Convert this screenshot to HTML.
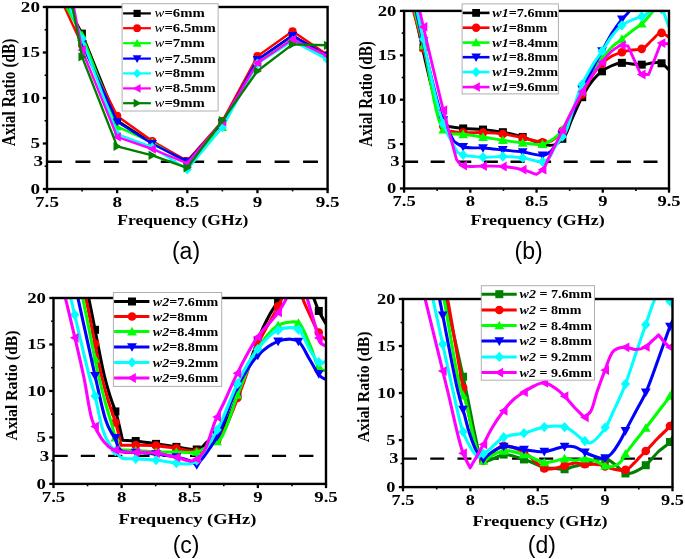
<!DOCTYPE html>
<html><head><meta charset="utf-8"><style>
html,body{margin:0;padding:0;background:#fff;width:685px;height:559px;overflow:hidden;font-family:"Liberation Sans",sans-serif}
svg{display:block;filter:blur(0.35px)}
</style></head><body>
<svg width="685" height="559" viewBox="0 0 685 559">
<line x1="47" y1="161.7" x2="318" y2="161.7" stroke="#000" stroke-width="2.4" stroke-dasharray="14.9 13.549999999999999"/>
<clipPath id="ca"><rect x="47" y="7" width="280.6" height="182"/></clipPath>
<g clip-path="url(#ca)">
<polyline points="47.00,-32.60 82.08,33.40 117.15,120.50 152.23,143.00 187.30,161.00 222.38,122.00 257.45,60.00 292.53,35.60 327.60,56.00" fill="none" stroke="#000000" stroke-width="2.4" stroke-linejoin="round"/>
<rect x="78.28" y="29.60" width="7.60" height="7.60" fill="#000000"/>
<rect x="113.35" y="116.70" width="7.60" height="7.60" fill="#000000"/>
<rect x="148.43" y="139.20" width="7.60" height="7.60" fill="#000000"/>
<rect x="183.50" y="157.20" width="7.60" height="7.60" fill="#000000"/>
<rect x="218.57" y="118.20" width="7.60" height="7.60" fill="#000000"/>
<rect x="253.65" y="56.20" width="7.60" height="7.60" fill="#000000"/>
<rect x="288.73" y="31.80" width="7.60" height="7.60" fill="#000000"/>
<rect x="323.80" y="52.20" width="7.60" height="7.60" fill="#000000"/>
<polyline points="47.00,-30.60 82.08,45.00 117.15,115.90 152.23,141.00 187.30,161.00 222.38,121.00 257.45,56.20 292.53,31.30 327.60,54.90" fill="none" stroke="#ff0000" stroke-width="2.4" stroke-linejoin="round"/>
<circle cx="82.08" cy="45.00" r="4.10" fill="#ff0000"/>
<circle cx="117.15" cy="115.90" r="4.10" fill="#ff0000"/>
<circle cx="152.23" cy="141.00" r="4.10" fill="#ff0000"/>
<circle cx="187.30" cy="161.00" r="4.10" fill="#ff0000"/>
<circle cx="222.38" cy="121.00" r="4.10" fill="#ff0000"/>
<circle cx="257.45" cy="56.20" r="4.10" fill="#ff0000"/>
<circle cx="292.53" cy="31.30" r="4.10" fill="#ff0000"/>
<circle cx="327.60" cy="54.90" r="4.10" fill="#ff0000"/>
<polyline points="47.00,-27.20 82.08,35.00 117.15,126.70 152.23,142.50 187.30,163.00 222.38,127.30 257.45,62.00 292.53,39.00 327.60,57.00" fill="none" stroke="#00ff00" stroke-width="2.4" stroke-linejoin="round"/>
<path d="M82.08,30.44L86.73,38.65L77.42,38.65Z" fill="#00ff00"/>
<path d="M117.15,122.14L121.80,130.35L112.50,130.35Z" fill="#00ff00"/>
<path d="M152.23,137.94L156.88,146.15L147.57,146.15Z" fill="#00ff00"/>
<path d="M187.30,158.44L191.95,166.65L182.65,166.65Z" fill="#00ff00"/>
<path d="M222.38,122.74L227.03,130.95L217.72,130.95Z" fill="#00ff00"/>
<path d="M257.45,57.44L262.10,65.65L252.80,65.65Z" fill="#00ff00"/>
<path d="M292.53,34.44L297.18,42.65L287.87,42.65Z" fill="#00ff00"/>
<path d="M327.60,52.44L332.25,60.65L322.95,60.65Z" fill="#00ff00"/>
<polyline points="47.00,-73.20 82.08,43.75 117.15,121.80 152.23,143.70 187.30,161.60 222.38,123.00 257.45,59.70 292.53,35.60 327.60,56.00" fill="none" stroke="#0000ff" stroke-width="2.4" stroke-linejoin="round"/>
<path d="M82.08,48.31L86.73,40.10L77.42,40.10Z" fill="#0000ff"/>
<path d="M117.15,126.36L121.80,118.15L112.50,118.15Z" fill="#0000ff"/>
<path d="M152.23,148.26L156.88,140.05L147.57,140.05Z" fill="#0000ff"/>
<path d="M187.30,166.16L191.95,157.95L182.65,157.95Z" fill="#0000ff"/>
<path d="M222.38,127.56L227.03,119.35L217.72,119.35Z" fill="#0000ff"/>
<path d="M257.45,64.26L262.10,56.05L252.80,56.05Z" fill="#0000ff"/>
<path d="M292.53,40.16L297.18,31.95L287.87,31.95Z" fill="#0000ff"/>
<path d="M327.60,60.56L332.25,52.35L322.95,52.35Z" fill="#0000ff"/>
<polyline points="47.00,-49.40 82.08,38.75 117.15,134.00 152.23,147.20 187.30,169.60 222.38,127.30 257.45,63.50 292.53,41.00 327.60,59.70" fill="none" stroke="#00ffff" stroke-width="2.4" stroke-linejoin="round"/>
<path d="M82.08,33.81L86.52,38.75L82.08,43.69L77.63,38.75Z" fill="#00ffff"/>
<path d="M117.15,129.06L121.60,134.00L117.15,138.94L112.70,134.00Z" fill="#00ffff"/>
<path d="M152.23,142.26L156.67,147.20L152.23,152.14L147.78,147.20Z" fill="#00ffff"/>
<path d="M187.30,164.66L191.75,169.60L187.30,174.54L182.85,169.60Z" fill="#00ffff"/>
<path d="M222.38,122.36L226.82,127.30L222.38,132.24L217.93,127.30Z" fill="#00ffff"/>
<path d="M257.45,58.56L261.90,63.50L257.45,68.44L253.00,63.50Z" fill="#00ffff"/>
<path d="M292.53,36.06L296.97,41.00L292.53,45.94L288.08,41.00Z" fill="#00ffff"/>
<path d="M327.60,54.76L332.05,59.70L327.60,64.64L323.15,59.70Z" fill="#00ffff"/>
<polyline points="47.00,-132.00 82.08,50.00 117.15,136.90 152.23,149.00 187.30,163.30 222.38,121.50 257.45,62.90 292.53,39.30 327.60,56.00" fill="none" stroke="#ff00ff" stroke-width="2.4" stroke-linejoin="round"/>
<path d="M77.52,50.00L85.72,45.35L85.72,54.65Z" fill="#ff00ff"/>
<path d="M112.59,136.90L120.80,132.25L120.80,141.55Z" fill="#ff00ff"/>
<path d="M147.67,149.00L155.87,144.35L155.87,153.65Z" fill="#ff00ff"/>
<path d="M182.74,163.30L190.95,158.65L190.95,167.95Z" fill="#ff00ff"/>
<path d="M217.81,121.50L226.02,116.85L226.02,126.15Z" fill="#ff00ff"/>
<path d="M252.89,62.90L261.10,58.25L261.10,67.55Z" fill="#ff00ff"/>
<path d="M287.97,39.30L296.17,34.65L296.17,43.95Z" fill="#ff00ff"/>
<path d="M323.04,56.00L331.25,51.35L331.25,60.65Z" fill="#ff00ff"/>
<polyline points="47.00,-127.00 82.08,56.90 117.15,146.40 152.23,155.30 187.30,167.80 222.38,120.60 257.45,71.00 292.53,44.40 327.60,45.30" fill="none" stroke="#008000" stroke-width="2.4" stroke-linejoin="round"/>
<path d="M86.64,56.90L78.43,52.25L78.43,61.55Z" fill="#008000"/>
<path d="M121.71,146.40L113.50,141.75L113.50,151.05Z" fill="#008000"/>
<path d="M156.79,155.30L148.58,150.65L148.58,159.95Z" fill="#008000"/>
<path d="M191.86,167.80L183.65,163.15L183.65,172.45Z" fill="#008000"/>
<path d="M226.94,120.60L218.73,115.95L218.73,125.25Z" fill="#008000"/>
<path d="M262.01,71.00L253.80,66.35L253.80,75.65Z" fill="#008000"/>
<path d="M297.09,44.40L288.88,39.75L288.88,49.05Z" fill="#008000"/>
<path d="M332.16,45.30L323.95,40.65L323.95,49.95Z" fill="#008000"/>
</g>
<rect x="47" y="7" width="280.6" height="182" fill="none" stroke="#000" stroke-width="2.4"/>
<line x1="47.00" y1="189" x2="47.00" y2="193.2" stroke="#000" stroke-width="2.3"/>
<line x1="117.15" y1="189" x2="117.15" y2="193.2" stroke="#000" stroke-width="2.3"/>
<line x1="187.30" y1="189" x2="187.30" y2="193.2" stroke="#000" stroke-width="2.3"/>
<line x1="257.45" y1="189" x2="257.45" y2="193.2" stroke="#000" stroke-width="2.3"/>
<line x1="327.60" y1="189" x2="327.60" y2="193.2" stroke="#000" stroke-width="2.3"/>
<line x1="82.08" y1="189" x2="82.08" y2="191.4" stroke="#000" stroke-width="1.6"/>
<line x1="152.23" y1="189" x2="152.23" y2="191.4" stroke="#000" stroke-width="1.6"/>
<line x1="222.38" y1="189" x2="222.38" y2="191.4" stroke="#000" stroke-width="1.6"/>
<line x1="292.53" y1="189" x2="292.53" y2="191.4" stroke="#000" stroke-width="1.6"/>
<line x1="47" y1="189.00" x2="42.8" y2="189.00" stroke="#000" stroke-width="2.3"/>
<line x1="47" y1="143.50" x2="42.8" y2="143.50" stroke="#000" stroke-width="2.3"/>
<line x1="47" y1="98.00" x2="42.8" y2="98.00" stroke="#000" stroke-width="2.3"/>
<line x1="47" y1="52.50" x2="42.8" y2="52.50" stroke="#000" stroke-width="2.3"/>
<line x1="47" y1="7.00" x2="42.8" y2="7.00" stroke="#000" stroke-width="2.3"/>
<line x1="47" y1="166.25" x2="44.6" y2="166.25" stroke="#000" stroke-width="1.6"/>
<line x1="47" y1="120.75" x2="44.6" y2="120.75" stroke="#000" stroke-width="1.6"/>
<line x1="47" y1="75.25" x2="44.6" y2="75.25" stroke="#000" stroke-width="1.6"/>
<line x1="47" y1="29.75" x2="44.6" y2="29.75" stroke="#000" stroke-width="1.6"/>
<g font-family="Liberation Serif" font-weight="bold" fill="#000">
<text transform="translate(40.00,193.60) scale(1.32,1)" text-anchor="end" font-size="14.5">0</text>
<text transform="translate(40.00,148.10) scale(1.32,1)" text-anchor="end" font-size="14.5">5</text>
<text transform="translate(40.00,102.60) scale(1.32,1)" text-anchor="end" font-size="14.5">10</text>
<text transform="translate(40.00,57.10) scale(1.32,1)" text-anchor="end" font-size="14.5">15</text>
<text transform="translate(40.00,11.60) scale(1.32,1)" text-anchor="end" font-size="14.5">20</text>
<text transform="translate(43.10,166.30) scale(1.32,1)" text-anchor="end" font-size="14.5">3</text>
<text transform="translate(47.00,207.00) scale(1.32,1)" text-anchor="middle" font-size="14.5">7.5</text>
<text transform="translate(117.15,207.00) scale(1.32,1)" text-anchor="middle" font-size="14.5">8</text>
<text transform="translate(187.30,207.00) scale(1.32,1)" text-anchor="middle" font-size="14.5">8.5</text>
<text transform="translate(257.45,207.00) scale(1.32,1)" text-anchor="middle" font-size="14.5">9</text>
<text transform="translate(327.60,207.00) scale(1.32,1)" text-anchor="middle" font-size="14.5">9.5</text>
<text transform="translate(182.80,224.90) scale(1.213,1)" text-anchor="middle" font-size="14.5">Frequency (GHz)</text>
<text transform="translate(14.6,92.4) rotate(-90) scale(1,1.213)" text-anchor="middle" font-size="15.4">Axial Ratio (dB)</text>
</g>
<text x="186" y="259.0" text-anchor="middle" font-family="Liberation Sans" font-size="23" fill="#000">(a)</text>
<rect x="122.1" y="3.7" width="96.0" height="107.3" fill="#fff" stroke="#b0b0b0" stroke-width="1"/>
<line x1="123.1" y1="13.4" x2="150.9" y2="13.4" stroke="#000" stroke-width="2.2"/>
<rect x="133.50" y="9.80" width="7.20" height="7.20" fill="#000"/>
<text transform="translate(154.6,17.47) scale(1.25,1)" font-family="Liberation Serif" font-weight="bold" font-size="11.8"><tspan font-style="italic" font-weight="normal">w</tspan>=6mm</text>
<line x1="123.1" y1="28.2" x2="150.9" y2="28.2" stroke="#f00" stroke-width="2.2"/>
<circle cx="137.10" cy="28.20" r="3.89" fill="#f00"/>
<text transform="translate(154.6,32.27) scale(1.25,1)" font-family="Liberation Serif" font-weight="bold" font-size="11.8"><tspan font-style="italic" font-weight="normal">w</tspan>=6.5mm</text>
<line x1="123.1" y1="43.2" x2="150.9" y2="43.2" stroke="#0f0" stroke-width="2.2"/>
<path d="M137.10,38.88L141.51,46.66L132.69,46.66Z" fill="#0f0"/>
<text transform="translate(154.6,47.27) scale(1.25,1)" font-family="Liberation Serif" font-weight="bold" font-size="11.8"><tspan font-style="italic" font-weight="normal">w</tspan>=7mm</text>
<line x1="123.1" y1="58.6" x2="150.9" y2="58.6" stroke="#00f" stroke-width="2.2"/>
<path d="M137.10,62.92L141.51,55.14L132.69,55.14Z" fill="#00f"/>
<text transform="translate(154.6,62.67) scale(1.25,1)" font-family="Liberation Serif" font-weight="bold" font-size="11.8"><tspan font-style="italic" font-weight="normal">w</tspan>=7.5mm</text>
<line x1="123.1" y1="73.4" x2="150.9" y2="73.4" stroke="#0ff" stroke-width="2.2"/>
<path d="M137.10,68.72L141.31,73.40L137.10,78.08L132.89,73.40Z" fill="#0ff"/>
<text transform="translate(154.6,77.47) scale(1.25,1)" font-family="Liberation Serif" font-weight="bold" font-size="11.8"><tspan font-style="italic" font-weight="normal">w</tspan>=8mm</text>
<line x1="123.1" y1="88.4" x2="150.9" y2="88.4" stroke="#f0f" stroke-width="2.2"/>
<path d="M132.78,88.40L140.56,83.99L140.56,92.81Z" fill="#f0f"/>
<text transform="translate(154.6,92.47) scale(1.25,1)" font-family="Liberation Serif" font-weight="bold" font-size="11.8"><tspan font-style="italic" font-weight="normal">w</tspan>=8.5mm</text>
<line x1="123.1" y1="103.2" x2="150.9" y2="103.2" stroke="#008000" stroke-width="2.2"/>
<path d="M141.42,103.20L133.64,98.79L133.64,107.61Z" fill="#008000"/>
<text transform="translate(154.6,107.27) scale(1.25,1)" font-family="Liberation Serif" font-weight="bold" font-size="11.8"><tspan font-style="italic" font-weight="normal">w</tspan>=9mm</text>
<line x1="404.1" y1="161.7" x2="659" y2="161.7" stroke="#000" stroke-width="2.4" stroke-dasharray="14.0 12.600000000000001"/>
<clipPath id="cb"><rect x="404.1" y="10.9" width="264.9" height="177.6"/></clipPath>
<g clip-path="url(#cb)">
<path d="M409.50,-10.00 C411.07,-3.00 411.87,1.28 414.20,11.00 C419.55,33.32 434.21,107.86 442.30,121.00 C444.49,124.57 446.50,124.67 448.60,126.50 C453.60,127.17 458.22,128.00 463.60,128.50 C469.80,129.08 477.03,128.97 483.70,129.60 C490.36,130.23 497.05,131.06 503.60,132.30 C510.12,133.53 517.26,135.27 522.90,137.00 C527.45,138.39 531.35,140.37 535.00,141.50 C537.91,142.40 540.50,142.83 543.00,143.50 C545.23,144.10 547.17,145.17 549.30,145.30 C551.44,145.43 553.76,145.22 555.80,144.30 C558.09,143.27 560.43,140.85 562.20,139.00 C563.74,137.39 564.74,136.22 566.00,134.00 C568.02,130.43 569.57,124.60 572.00,119.00 C575.17,111.69 579.76,101.01 583.70,94.00 C586.78,88.53 589.74,83.93 593.00,80.00 C595.75,76.67 598.52,73.97 601.60,71.60 C604.54,69.34 607.69,67.47 611.00,66.00 C614.30,64.54 617.88,63.13 621.40,62.80 C624.88,62.48 628.49,63.68 632.00,64.00 C635.45,64.31 638.93,64.88 642.30,64.70 C645.59,64.53 648.82,63.31 652.00,63.00 C655.04,62.70 658.26,61.81 661.00,62.80 C663.98,63.88 666.33,67.47 669.00,69.80" fill="none" stroke="#000000" stroke-width="2.9" stroke-linejoin="round"/>
<rect x="419.50" y="43.41" width="8.00" height="8.00" fill="#000000"/>
<rect x="439.34" y="117.91" width="8.00" height="8.00" fill="#000000"/>
<rect x="459.17" y="124.44" width="8.00" height="8.00" fill="#000000"/>
<rect x="479.01" y="125.56" width="8.00" height="8.00" fill="#000000"/>
<rect x="498.85" y="128.20" width="8.00" height="8.00" fill="#000000"/>
<rect x="518.68" y="132.95" width="8.00" height="8.00" fill="#000000"/>
<rect x="538.52" y="139.38" width="8.00" height="8.00" fill="#000000"/>
<rect x="558.36" y="134.79" width="8.00" height="8.00" fill="#000000"/>
<rect x="578.20" y="93.21" width="8.00" height="8.00" fill="#000000"/>
<rect x="598.03" y="67.34" width="8.00" height="8.00" fill="#000000"/>
<rect x="617.87" y="58.85" width="8.00" height="8.00" fill="#000000"/>
<rect x="637.71" y="60.66" width="8.00" height="8.00" fill="#000000"/>
<rect x="657.54" y="59.28" width="8.00" height="8.00" fill="#000000"/>
<path d="M408.00,-10.00 C409.80,-3.00 411.29,3.00 413.40,11.00 C416.22,21.71 419.66,33.74 423.50,48.50 C429.00,69.64 436.48,115.45 442.90,125.80 C444.94,129.08 446.97,129.27 449.00,131.00 C453.87,131.53 458.34,132.31 463.60,132.60 C469.76,132.94 477.02,132.37 483.70,132.60 C490.35,132.83 497.05,133.11 503.60,134.00 C510.11,134.88 516.42,136.53 522.90,137.90 C529.51,139.30 537.91,142.04 542.90,142.30 C545.85,142.45 547.82,142.30 550.00,141.50 C552.19,140.70 554.07,139.08 556.00,137.50 C558.09,135.79 559.95,134.24 562.00,131.50 C565.22,127.18 568.66,119.12 572.00,113.00 C575.30,106.95 578.61,101.09 581.90,95.00 C585.27,88.76 588.28,81.60 592.00,76.00 C595.32,71.02 599.12,66.30 602.80,62.80 C605.81,59.93 608.80,57.77 612.00,56.00 C615.01,54.33 618.13,53.29 621.40,52.30 C624.79,51.27 628.48,50.59 632.00,50.00 C635.44,49.43 639.13,50.24 642.30,48.80 C645.86,47.18 648.79,42.77 652.00,40.00 C655.02,37.39 658.00,32.85 661.00,32.60 C663.67,32.38 666.33,35.67 669.00,37.20" fill="none" stroke="#ff0000" stroke-width="2.9" stroke-linejoin="round"/>
<circle cx="423.50" cy="48.50" r="4.32" fill="#ff0000"/>
<circle cx="443.34" cy="126.17" r="4.32" fill="#ff0000"/>
<circle cx="463.17" cy="132.55" r="4.32" fill="#ff0000"/>
<circle cx="483.01" cy="132.60" r="4.32" fill="#ff0000"/>
<circle cx="502.85" cy="133.95" r="4.32" fill="#ff0000"/>
<circle cx="522.68" cy="137.86" r="4.32" fill="#ff0000"/>
<circle cx="542.52" cy="142.22" r="4.32" fill="#ff0000"/>
<circle cx="562.36" cy="130.84" r="4.32" fill="#ff0000"/>
<circle cx="582.20" cy="94.44" r="4.32" fill="#ff0000"/>
<circle cx="602.03" cy="63.74" r="4.32" fill="#ff0000"/>
<circle cx="621.87" cy="52.20" r="4.32" fill="#ff0000"/>
<circle cx="641.71" cy="48.87" r="4.32" fill="#ff0000"/>
<circle cx="661.54" cy="32.91" r="4.32" fill="#ff0000"/>
<path d="M409.00,-10.00 C410.83,-3.00 412.44,3.14 414.50,11.00 C417.13,21.08 420.04,31.46 423.50,45.50 C428.87,67.31 435.14,118.80 442.90,129.30 C445.46,132.76 448.30,132.43 451.00,134.00 C455.20,134.10 458.92,133.91 463.60,134.30 C469.53,134.80 477.02,136.20 483.70,137.20 C490.35,138.20 497.01,139.34 503.60,140.30 C510.08,141.24 516.40,142.24 522.90,142.90 C529.50,143.57 538.01,145.20 542.90,144.30 C545.96,143.74 547.70,142.34 550.00,141.00 C552.41,139.60 554.94,137.90 557.00,136.00 C558.99,134.15 560.36,132.56 562.20,129.80 C565.18,125.34 568.73,117.28 572.00,111.00 C575.29,104.68 578.53,98.22 581.90,92.00 C585.20,85.89 588.45,79.75 592.00,74.00 C595.43,68.44 599.22,62.75 602.80,58.00 C605.88,53.90 608.75,50.18 612.00,47.00 C614.98,44.09 618.17,42.08 621.40,39.50 C624.83,36.76 628.47,33.73 632.00,31.00 C635.44,28.34 639.23,26.06 642.30,23.30 C645.18,20.71 647.78,17.72 650.00,15.00 C651.93,12.63 653.49,10.81 655.00,8.00 C656.92,4.43 658.33,-0.67 660.00,-5.00" fill="none" stroke="#00ff00" stroke-width="2.9" stroke-linejoin="round"/>
<path d="M423.50,40.70L428.40,49.34L418.60,49.34Z" fill="#00ff00"/>
<path d="M443.34,124.75L448.23,133.39L438.44,133.39Z" fill="#00ff00"/>
<path d="M463.17,129.49L468.07,138.13L458.28,138.13Z" fill="#00ff00"/>
<path d="M483.01,132.30L487.91,140.94L478.11,140.94Z" fill="#00ff00"/>
<path d="M502.85,135.38L507.74,144.02L497.95,144.02Z" fill="#00ff00"/>
<path d="M522.68,138.07L527.58,146.71L517.79,146.71Z" fill="#00ff00"/>
<path d="M542.52,139.47L547.42,148.11L537.63,148.11Z" fill="#00ff00"/>
<path d="M562.36,124.69L567.25,133.33L557.46,133.33Z" fill="#00ff00"/>
<path d="M582.20,86.67L587.09,95.31L577.30,95.31Z" fill="#00ff00"/>
<path d="M602.03,54.34L606.93,62.98L597.14,62.98Z" fill="#00ff00"/>
<path d="M621.87,34.32L626.77,42.96L616.97,42.96Z" fill="#00ff00"/>
<path d="M641.71,18.94L646.60,27.58L636.81,27.58Z" fill="#00ff00"/>
<path d="M411.00,-10.00 C412.67,-3.00 413.64,1.29 416.00,11.00 C421.37,33.08 434.70,97.07 442.90,119.30 C446.77,129.78 450.30,134.10 454.00,141.50 C457.20,143.33 459.65,145.84 463.60,147.00 C468.93,148.56 477.02,147.50 483.70,148.00 C490.36,148.50 497.02,149.33 503.60,150.00 C510.08,150.66 516.42,151.13 522.90,152.00 C529.52,152.89 538.00,155.97 542.90,155.30 C545.95,154.88 547.83,153.73 550.00,152.00 C552.62,149.91 554.65,146.26 557.00,143.00 C559.64,139.33 562.59,135.40 565.00,131.00 C567.65,126.15 569.52,120.95 572.00,115.00 C575.08,107.62 578.40,97.79 581.90,90.00 C585.10,82.88 588.64,76.47 592.00,70.00 C595.21,63.82 598.32,58.07 601.60,52.00 C604.98,45.74 608.45,38.67 612.00,33.00 C615.07,28.10 618.26,23.67 621.40,19.80 C624.10,16.48 627.40,14.31 629.50,11.00 C631.59,7.70 632.50,3.67 634.00,0.00" fill="none" stroke="#0000ff" stroke-width="2.9" stroke-linejoin="round"/>
<path d="M423.50,46.00L428.40,37.36L418.60,37.36Z" fill="#0000ff"/>
<path d="M443.34,124.97L448.23,116.33L438.44,116.33Z" fill="#0000ff"/>
<path d="M463.17,151.56L468.07,142.92L458.28,142.92Z" fill="#0000ff"/>
<path d="M483.01,152.77L487.91,144.13L478.11,144.13Z" fill="#0000ff"/>
<path d="M502.85,154.72L507.74,146.08L497.95,146.08Z" fill="#0000ff"/>
<path d="M522.68,156.78L527.58,148.14L517.79,148.14Z" fill="#0000ff"/>
<path d="M542.52,160.04L547.42,151.40L537.63,151.40Z" fill="#0000ff"/>
<path d="M562.36,139.76L567.25,131.12L557.46,131.12Z" fill="#0000ff"/>
<path d="M582.20,94.21L587.09,85.57L577.30,85.57Z" fill="#0000ff"/>
<path d="M602.03,56.01L606.93,47.37L597.14,47.37Z" fill="#0000ff"/>
<path d="M621.87,24.09L626.77,15.45L616.97,15.45Z" fill="#0000ff"/>
<path d="M412.00,-10.00 C413.67,-3.00 414.71,1.23 417.00,11.00 C422.29,33.54 433.98,97.90 442.90,122.90 C447.68,136.30 452.63,142.63 457.50,152.50 C459.53,153.37 460.91,154.40 463.60,155.10 C468.30,156.32 477.01,156.97 483.70,157.20 C490.34,157.43 497.02,156.38 503.60,156.50 C510.09,156.62 516.44,157.04 522.90,157.90 C529.53,158.78 538.27,162.65 542.90,161.80 C545.65,161.29 547.19,159.92 549.00,158.00 C551.39,155.47 552.59,150.86 555.00,147.00 C557.88,142.38 562.61,137.75 565.40,132.30 C568.37,126.49 569.63,119.92 572.00,113.00 C574.77,104.93 577.49,94.90 581.00,86.80 C584.23,79.33 588.17,72.38 592.00,66.00 C595.47,60.22 599.36,55.17 602.80,50.00 C606.01,45.19 608.75,40.21 612.00,36.00 C614.98,32.15 617.91,28.31 621.40,25.60 C624.63,23.09 628.47,21.58 632.00,20.00 C635.33,18.51 639.13,17.61 642.00,16.30 C644.30,15.25 646.28,14.29 648.00,13.00 C649.56,11.83 650.59,10.41 652.00,9.00 C653.57,7.43 655.29,3.93 657.00,4.00 C658.95,4.07 661.49,8.44 663.00,11.00 C664.45,13.46 665.00,16.33 666.00,19.00 C667.00,21.67 668.00,24.33 669.00,27.00" fill="none" stroke="#00ffff" stroke-width="2.9" stroke-linejoin="round"/>
<path d="M423.50,33.88L428.18,39.08L423.50,44.28L418.82,39.08Z" fill="#00ffff"/>
<path d="M443.34,118.59L448.02,123.79L443.34,128.99L438.66,123.79Z" fill="#00ffff"/>
<path d="M463.17,149.72L467.85,154.92L463.17,160.12L458.49,154.92Z" fill="#00ffff"/>
<path d="M483.01,151.93L487.69,157.13L483.01,162.33L478.33,157.13Z" fill="#00ffff"/>
<path d="M502.85,151.33L507.53,156.53L502.85,161.73L498.17,156.53Z" fill="#00ffff"/>
<path d="M522.68,152.68L527.36,157.88L522.68,163.08L518.00,157.88Z" fill="#00ffff"/>
<path d="M542.52,156.53L547.20,161.73L542.52,166.93L537.84,161.73Z" fill="#00ffff"/>
<path d="M562.36,131.40L567.04,136.60L562.36,141.80L557.68,136.60Z" fill="#00ffff"/>
<path d="M582.20,79.34L586.88,84.54L582.20,89.74L577.52,84.54Z" fill="#00ffff"/>
<path d="M602.03,45.94L606.71,51.14L602.03,56.34L597.35,51.14Z" fill="#00ffff"/>
<path d="M621.87,20.15L626.55,25.35L621.87,30.55L617.19,25.35Z" fill="#00ffff"/>
<path d="M641.71,11.21L646.39,16.41L641.71,21.61L637.03,16.41Z" fill="#00ffff"/>
<path d="M661.54,4.10L666.22,9.30L661.54,14.50L656.86,9.30Z" fill="#00ffff"/>
<path d="M415.00,-10.00 C416.57,-3.00 417.49,1.45 419.70,11.00 C424.46,31.61 436.03,81.26 442.90,108.50 C447.89,128.27 451.97,142.50 456.50,159.50 C458.33,161.50 459.18,164.21 462.00,165.50 C466.60,167.60 476.62,165.93 483.70,166.10 C490.48,166.26 497.04,165.89 503.60,166.50 C510.10,167.10 517.08,168.22 522.90,169.70 C527.89,170.97 531.97,172.83 536.50,174.40 C538.63,172.73 541.02,171.67 542.90,169.40 C545.27,166.55 546.47,162.63 548.80,158.00 C552.39,150.87 558.07,139.05 562.20,130.70 C565.71,123.59 568.69,117.47 572.00,111.00 C575.26,104.64 578.47,98.17 581.90,92.20 C585.15,86.54 588.59,81.08 592.00,76.00 C595.16,71.29 598.22,66.91 601.60,62.70 C604.90,58.59 608.39,54.01 612.00,51.00 C615.03,48.48 618.44,45.96 621.40,45.30 C623.70,44.79 625.80,45.77 628.00,46.00 C632.27,55.50 636.53,65.00 640.80,74.50 C643.43,74.50 646.07,74.50 648.70,74.50 C652.77,64.00 656.83,53.50 660.90,43.00 C663.60,43.33 666.30,43.67 669.00,44.00" fill="none" stroke="#ff00ff" stroke-width="2.9" stroke-linejoin="round"/>
<path d="M418.70,26.97L427.34,22.07L427.34,31.87Z" fill="#ff00ff"/>
<path d="M438.54,110.14L447.18,105.24L447.18,115.03Z" fill="#ff00ff"/>
<path d="M458.37,165.53L467.01,160.64L467.01,170.43Z" fill="#ff00ff"/>
<path d="M478.21,166.08L486.85,161.18L486.85,170.98Z" fill="#ff00ff"/>
<path d="M498.05,166.48L506.69,161.59L506.69,171.38Z" fill="#ff00ff"/>
<path d="M517.88,169.66L526.52,164.77L526.52,174.56Z" fill="#ff00ff"/>
<path d="M537.72,169.70L546.36,164.80L546.36,174.59Z" fill="#ff00ff"/>
<path d="M557.56,130.38L566.20,125.48L566.20,135.28Z" fill="#ff00ff"/>
<path d="M577.40,91.73L586.04,86.83L586.04,96.62Z" fill="#ff00ff"/>
<path d="M597.23,62.21L605.87,57.32L605.87,67.11Z" fill="#ff00ff"/>
<path d="M617.07,45.35L625.71,40.45L625.71,50.25Z" fill="#ff00ff"/>
<path d="M636.91,74.50L645.55,69.60L645.55,79.40Z" fill="#ff00ff"/>
<path d="M656.74,43.08L665.38,38.18L665.38,47.98Z" fill="#ff00ff"/>
</g>
<rect x="404.1" y="10.9" width="264.9" height="177.6" fill="none" stroke="#000" stroke-width="2.4"/>
<line x1="404.10" y1="188.5" x2="404.10" y2="192.7" stroke="#000" stroke-width="2.3"/>
<line x1="470.33" y1="188.5" x2="470.33" y2="192.7" stroke="#000" stroke-width="2.3"/>
<line x1="536.55" y1="188.5" x2="536.55" y2="192.7" stroke="#000" stroke-width="2.3"/>
<line x1="602.77" y1="188.5" x2="602.77" y2="192.7" stroke="#000" stroke-width="2.3"/>
<line x1="669.00" y1="188.5" x2="669.00" y2="192.7" stroke="#000" stroke-width="2.3"/>
<line x1="437.21" y1="188.5" x2="437.21" y2="190.9" stroke="#000" stroke-width="1.6"/>
<line x1="503.44" y1="188.5" x2="503.44" y2="190.9" stroke="#000" stroke-width="1.6"/>
<line x1="569.66" y1="188.5" x2="569.66" y2="190.9" stroke="#000" stroke-width="1.6"/>
<line x1="635.89" y1="188.5" x2="635.89" y2="190.9" stroke="#000" stroke-width="1.6"/>
<line x1="404.1" y1="188.50" x2="399.90000000000003" y2="188.50" stroke="#000" stroke-width="2.3"/>
<line x1="404.1" y1="144.10" x2="399.90000000000003" y2="144.10" stroke="#000" stroke-width="2.3"/>
<line x1="404.1" y1="99.70" x2="399.90000000000003" y2="99.70" stroke="#000" stroke-width="2.3"/>
<line x1="404.1" y1="55.30" x2="399.90000000000003" y2="55.30" stroke="#000" stroke-width="2.3"/>
<line x1="404.1" y1="10.90" x2="399.90000000000003" y2="10.90" stroke="#000" stroke-width="2.3"/>
<line x1="404.1" y1="166.30" x2="401.70000000000005" y2="166.30" stroke="#000" stroke-width="1.6"/>
<line x1="404.1" y1="121.90" x2="401.70000000000005" y2="121.90" stroke="#000" stroke-width="1.6"/>
<line x1="404.1" y1="77.50" x2="401.70000000000005" y2="77.50" stroke="#000" stroke-width="1.6"/>
<line x1="404.1" y1="33.10" x2="401.70000000000005" y2="33.10" stroke="#000" stroke-width="1.6"/>
<g font-family="Liberation Serif" font-weight="bold" fill="#000">
<text transform="translate(396.40,193.10) scale(1.3,1)" text-anchor="end" font-size="14.3">0</text>
<text transform="translate(396.40,148.70) scale(1.3,1)" text-anchor="end" font-size="14.3">5</text>
<text transform="translate(396.40,104.30) scale(1.3,1)" text-anchor="end" font-size="14.3">10</text>
<text transform="translate(396.40,59.90) scale(1.3,1)" text-anchor="end" font-size="14.3">15</text>
<text transform="translate(396.40,15.50) scale(1.3,1)" text-anchor="end" font-size="14.3">20</text>
<text transform="translate(399.50,166.46) scale(1.3,1)" text-anchor="end" font-size="14.3">3</text>
<text transform="translate(404.10,206.10) scale(1.3,1)" text-anchor="middle" font-size="14.3">7.5</text>
<text transform="translate(470.33,206.10) scale(1.3,1)" text-anchor="middle" font-size="14.3">8</text>
<text transform="translate(536.55,206.10) scale(1.3,1)" text-anchor="middle" font-size="14.3">8.5</text>
<text transform="translate(602.77,206.10) scale(1.3,1)" text-anchor="middle" font-size="14.3">9</text>
<text transform="translate(669.00,206.10) scale(1.3,1)" text-anchor="middle" font-size="14.3">9.5</text>
<text transform="translate(537.60,224.90) scale(1.245,1)" text-anchor="middle" font-size="14.5">Frequency (GHz)</text>
<text transform="translate(372.2,94) rotate(-90) scale(1,1.215)" text-anchor="middle" font-size="15.1">Axial Ratio (dB)</text>
</g>
<text x="528.6" y="258.8" text-anchor="middle" font-family="Liberation Sans" font-size="23" fill="#000">(b)</text>
<rect x="462.1" y="3.9" width="96.29999999999995" height="90.0" fill="#fff" stroke="#b0b0b0" stroke-width="1"/>
<line x1="462.7" y1="12.9" x2="489.5" y2="12.9" stroke="#000" stroke-width="2.6"/>
<rect x="472.20" y="9.00" width="7.80" height="7.80" fill="#000"/>
<text transform="translate(492.2,16.97) scale(1.2,1)" font-family="Liberation Serif" font-weight="bold" font-size="11.8"><tspan font-style="italic" font-weight="bold">w1</tspan>=7.6mm</text>
<line x1="462.7" y1="27.7" x2="489.5" y2="27.7" stroke="#f00" stroke-width="2.6"/>
<circle cx="476.10" cy="27.70" r="4.21" fill="#f00"/>
<text transform="translate(492.2,31.77) scale(1.2,1)" font-family="Liberation Serif" font-weight="bold" font-size="11.8"><tspan font-style="italic" font-weight="bold">w1</tspan>=8mm</text>
<line x1="462.7" y1="42.6" x2="489.5" y2="42.6" stroke="#0f0" stroke-width="2.6"/>
<path d="M476.10,37.92L480.87,46.34L471.33,46.34Z" fill="#0f0"/>
<text transform="translate(492.2,46.67) scale(1.2,1)" font-family="Liberation Serif" font-weight="bold" font-size="11.8"><tspan font-style="italic" font-weight="bold">w1</tspan>=8.4mm</text>
<line x1="462.7" y1="57.2" x2="489.5" y2="57.2" stroke="#00f" stroke-width="2.6"/>
<path d="M476.10,61.88L480.87,53.46L471.33,53.46Z" fill="#00f"/>
<text transform="translate(492.2,61.27) scale(1.2,1)" font-family="Liberation Serif" font-weight="bold" font-size="11.8"><tspan font-style="italic" font-weight="bold">w1</tspan>=8.8mm</text>
<line x1="462.7" y1="72.1" x2="489.5" y2="72.1" stroke="#0ff" stroke-width="2.6"/>
<path d="M476.10,67.03L480.66,72.10L476.10,77.17L471.54,72.10Z" fill="#0ff"/>
<text transform="translate(492.2,76.17) scale(1.2,1)" font-family="Liberation Serif" font-weight="bold" font-size="11.8"><tspan font-style="italic" font-weight="bold">w1</tspan>=9.2mm</text>
<line x1="462.7" y1="87.1" x2="489.5" y2="87.1" stroke="#f0f" stroke-width="2.6"/>
<path d="M471.42,87.10L479.84,82.33L479.84,91.87Z" fill="#f0f"/>
<text transform="translate(492.2,91.17) scale(1.2,1)" font-family="Liberation Serif" font-weight="bold" font-size="11.8"><tspan font-style="italic" font-weight="bold">w1</tspan>=9.6mm</text>
<line x1="53.5" y1="455.9" x2="316" y2="455.9" stroke="#000" stroke-width="2.4" stroke-dasharray="14.2 13.100000000000001"/>
<clipPath id="cc"><rect x="53.5" y="298" width="272.5" height="185.89999999999998"/></clipPath>
<g clip-path="url(#cc)">
<path d="M84.00,280.00 C85.53,286.00 86.74,289.86 88.60,298.00 C92.46,314.84 100.20,358.57 104.40,376.00 C106.55,384.90 107.98,389.56 110.00,396.00 C111.93,402.14 114.27,407.23 116.20,413.80 C118.53,421.71 120.47,431.47 122.60,440.30 C126.90,440.53 130.74,440.54 135.50,441.00 C141.45,441.58 148.82,442.84 155.50,443.80 C162.22,444.77 168.89,445.86 175.70,446.80 C182.65,447.76 192.49,449.97 196.80,449.50 C198.77,449.29 199.63,448.86 201.00,448.00 C202.72,446.91 204.16,444.71 206.00,443.00 C208.10,441.05 210.48,439.12 213.00,437.00 C215.91,434.56 219.41,433.30 222.50,429.20 C228.11,421.78 233.17,405.67 238.60,392.20 C244.98,376.37 253.51,351.41 258.00,340.00 C260.21,334.38 261.27,331.71 263.20,327.50 C265.24,323.05 267.53,318.40 270.00,314.00 C272.49,309.57 275.74,305.41 278.10,301.00 C280.38,296.74 282.02,292.33 284.00,288.00 C285.98,283.66 286.52,277.23 290.00,275.00 C293.68,272.65 302.12,272.21 306.00,275.00 C310.77,278.44 311.32,291.45 313.70,298.00 C315.51,302.97 316.79,306.73 318.80,311.00 C320.87,315.40 323.60,319.67 326.00,324.00" fill="none" stroke="#000000" stroke-width="3.1" stroke-linejoin="round"/>
<rect x="91.04" y="325.79" width="8.00" height="8.00" fill="#000000"/>
<rect x="111.38" y="407.45" width="8.00" height="8.00" fill="#000000"/>
<rect x="131.72" y="437.03" width="8.00" height="8.00" fill="#000000"/>
<rect x="152.06" y="439.88" width="8.00" height="8.00" fill="#000000"/>
<rect x="172.40" y="442.89" width="8.00" height="8.00" fill="#000000"/>
<rect x="192.74" y="445.49" width="8.00" height="8.00" fill="#000000"/>
<rect x="213.08" y="429.65" width="8.00" height="8.00" fill="#000000"/>
<rect x="233.42" y="390.91" width="8.00" height="8.00" fill="#000000"/>
<rect x="253.76" y="336.65" width="8.00" height="8.00" fill="#000000"/>
<rect x="274.10" y="297.00" width="8.00" height="8.00" fill="#000000"/>
<rect x="314.78" y="306.95" width="8.00" height="8.00" fill="#000000"/>
<path d="M81.20,280.00 C82.73,286.00 83.94,289.86 85.80,298.00 C89.64,314.84 97.14,357.50 101.50,376.00 C103.94,386.34 105.54,391.76 108.00,400.00 C110.66,408.89 114.73,419.29 117.00,427.50 C118.79,434.00 119.67,439.30 121.00,445.20 C125.83,445.20 130.28,445.15 135.50,445.20 C141.63,445.26 148.83,445.11 155.50,445.60 C162.23,446.10 168.90,447.23 175.70,448.20 C182.66,449.19 191.65,451.96 196.80,451.50 C199.87,451.22 201.60,450.15 204.00,449.00 C206.67,447.72 209.41,445.69 212.00,444.00 C214.51,442.36 216.74,442.09 219.30,439.00 C225.47,431.57 233.62,407.76 240.00,392.00 C246.31,376.43 250.84,359.51 257.40,345.00 C263.40,331.73 273.04,316.59 277.30,308.10 C279.50,303.72 280.67,301.93 282.00,298.00 C283.72,292.94 282.66,282.68 286.00,280.00 C288.69,277.84 295.25,277.85 298.00,280.00 C301.43,282.67 300.50,292.17 302.50,298.00 C304.50,303.84 307.23,309.13 310.00,315.00 C313.04,321.46 316.71,330.96 320.10,335.10 C322.06,337.49 324.03,338.17 326.00,339.70" fill="none" stroke="#ff0000" stroke-width="3.1" stroke-linejoin="round"/>
<circle cx="95.04" cy="343.91" r="4.32" fill="#ff0000"/>
<circle cx="115.38" cy="422.55" r="4.32" fill="#ff0000"/>
<circle cx="135.72" cy="445.20" r="4.32" fill="#ff0000"/>
<circle cx="156.06" cy="445.67" r="4.32" fill="#ff0000"/>
<circle cx="176.40" cy="448.31" r="4.32" fill="#ff0000"/>
<circle cx="196.74" cy="451.49" r="4.32" fill="#ff0000"/>
<circle cx="217.08" cy="440.52" r="4.32" fill="#ff0000"/>
<circle cx="237.42" cy="397.86" r="4.32" fill="#ff0000"/>
<circle cx="257.76" cy="344.33" r="4.32" fill="#ff0000"/>
<circle cx="278.10" cy="306.38" r="4.32" fill="#ff0000"/>
<circle cx="318.78" cy="332.47" r="4.32" fill="#ff0000"/>
<path d="M78.00,280.00 C79.53,286.00 80.73,289.86 82.60,298.00 C86.48,314.84 94.08,356.34 98.60,376.00 C101.37,388.05 103.57,396.25 106.00,405.00 C108.03,412.31 110.13,418.44 112.00,425.00 C113.79,431.30 115.05,439.12 117.00,443.60 C118.22,446.41 119.67,447.87 121.00,450.00 C125.83,450.17 130.28,450.21 135.50,450.50 C141.63,450.84 148.81,451.75 155.50,452.00 C162.21,452.25 168.89,452.00 175.70,452.00 C182.66,452.00 191.50,453.22 196.80,452.00 C200.28,451.20 202.40,449.38 205.00,448.00 C207.45,446.71 209.59,445.31 212.00,444.00 C214.51,442.64 217.20,442.88 219.80,440.00 C226.18,432.95 232.56,406.55 239.00,391.00 C244.94,376.67 249.78,361.45 256.90,350.00 C262.89,340.37 270.44,330.17 277.30,325.80 C281.94,322.84 287.35,322.26 291.30,322.00 C294.13,321.81 296.37,321.36 298.70,323.00 C302.93,325.99 306.49,337.39 310.00,345.00 C313.64,352.87 316.21,366.44 320.10,369.50 C321.95,370.95 324.03,370.10 326.00,370.40" fill="none" stroke="#00ff00" stroke-width="3.1" stroke-linejoin="round"/>
<path d="M95.04,353.85L99.94,362.49L90.14,362.49Z" fill="#00ff00"/>
<path d="M115.38,432.77L120.28,441.41L110.48,441.41Z" fill="#00ff00"/>
<path d="M135.72,445.72L140.62,454.36L130.82,454.36Z" fill="#00ff00"/>
<path d="M156.06,447.20L160.96,455.84L151.16,455.84Z" fill="#00ff00"/>
<path d="M176.40,447.20L181.30,455.84L171.50,455.84Z" fill="#00ff00"/>
<path d="M196.74,447.20L201.64,455.84L191.84,455.84Z" fill="#00ff00"/>
<path d="M217.08,436.59L221.98,445.23L212.18,445.23Z" fill="#00ff00"/>
<path d="M237.42,390.23L242.32,398.87L232.52,398.87Z" fill="#00ff00"/>
<path d="M257.76,344.18L262.66,352.82L252.86,352.82Z" fill="#00ff00"/>
<path d="M278.10,320.78L283.00,329.42L273.20,329.42Z" fill="#00ff00"/>
<path d="M298.44,318.16L303.34,326.80L293.54,326.80Z" fill="#00ff00"/>
<path d="M318.78,361.50L323.68,370.14L313.88,370.14Z" fill="#00ff00"/>
<path d="M73.50,280.00 C74.97,286.00 76.01,289.88 77.90,298.00 C81.82,314.86 89.96,353.72 95.10,376.00 C98.97,392.77 102.33,410.04 105.70,420.00 C107.51,425.36 109.12,428.79 111.00,432.00 C112.41,434.41 114.20,435.53 115.40,437.90 C116.86,440.80 116.81,446.00 118.60,448.40 C119.97,450.25 121.74,451.26 124.00,452.00 C127.01,452.98 131.14,452.24 135.50,452.50 C141.25,452.84 148.83,453.26 155.50,454.00 C162.23,454.75 169.58,455.70 175.70,457.00 C180.92,458.11 186.20,459.36 190.00,461.00 C192.78,462.20 194.53,463.73 196.80,465.10 C199.53,461.73 202.03,459.09 205.00,455.00 C209.16,449.28 214.37,442.37 218.90,433.60 C225.24,421.33 230.24,400.89 237.30,387.20 C243.44,375.29 250.23,363.42 257.80,355.50 C263.83,349.19 271.09,344.20 277.30,341.60 C282.03,339.62 287.11,338.95 291.00,339.20 C293.96,339.39 296.23,339.68 298.70,341.60 C302.74,344.74 306.32,354.09 310.00,360.00 C313.44,365.53 316.81,372.72 320.10,376.00 C322.10,377.99 324.03,378.47 326.00,379.70" fill="none" stroke="#0000ff" stroke-width="3.1" stroke-linejoin="round"/>
<path d="M95.04,380.53L99.94,371.89L90.14,371.89Z" fill="#0000ff"/>
<path d="M115.38,442.67L120.28,434.03L110.48,434.03Z" fill="#0000ff"/>
<path d="M135.72,457.32L140.62,448.68L130.82,448.68Z" fill="#0000ff"/>
<path d="M156.06,458.88L160.96,450.24L151.16,450.24Z" fill="#0000ff"/>
<path d="M176.40,462.00L181.30,453.36L171.50,453.36Z" fill="#0000ff"/>
<path d="M196.74,469.86L201.64,461.22L191.84,461.22Z" fill="#0000ff"/>
<path d="M217.08,441.20L221.98,432.56L212.18,432.56Z" fill="#0000ff"/>
<path d="M237.42,391.81L242.32,383.17L232.52,383.17Z" fill="#0000ff"/>
<path d="M257.76,360.36L262.66,351.72L252.86,351.72Z" fill="#0000ff"/>
<path d="M278.10,346.26L283.00,337.62L273.20,337.62Z" fill="#0000ff"/>
<path d="M298.44,346.32L303.34,337.68L293.54,337.68Z" fill="#0000ff"/>
<path d="M318.78,378.71L323.68,370.07L313.88,370.07Z" fill="#0000ff"/>
<path d="M66.30,280.00 C67.77,286.00 68.74,289.89 70.70,298.00 C74.77,314.87 84.66,358.27 89.30,376.00 C91.72,385.25 93.32,389.23 95.30,397.00 C97.73,406.52 99.69,420.51 102.50,429.00 C104.46,434.93 106.38,439.40 109.00,443.60 C111.31,447.32 114.62,450.59 117.00,453.20 C118.76,455.12 119.56,456.99 121.80,458.00 C124.89,459.39 129.89,458.51 134.70,458.80 C140.81,459.17 148.63,459.29 155.50,460.00 C162.30,460.70 169.45,462.37 175.70,463.00 C181.06,463.54 186.90,464.68 190.70,463.80 C193.29,463.20 194.79,462.12 196.80,460.40 C199.57,458.04 202.06,454.27 205.00,450.00 C209.21,443.90 214.20,436.00 218.90,426.80 C225.24,414.40 231.45,395.13 238.30,381.60 C244.21,369.92 249.88,358.89 256.90,350.00 C263.07,342.20 270.68,333.88 277.30,330.40 C281.96,327.96 287.09,327.52 291.00,327.60 C293.94,327.66 296.27,327.64 298.70,329.50 C302.87,332.70 306.15,343.93 310.00,350.00 C313.30,355.20 316.84,363.07 320.10,363.90 C322.11,364.41 324.03,362.03 326.00,361.10" fill="none" stroke="#00ffff" stroke-width="3.1" stroke-linejoin="round"/>
<path d="M74.70,309.57L79.38,314.77L74.70,319.97L70.02,314.77Z" fill="#00ffff"/>
<path d="M95.04,390.89L99.72,396.09L95.04,401.29L90.36,396.09Z" fill="#00ffff"/>
<path d="M115.38,446.06L120.06,451.26L115.38,456.46L110.70,451.26Z" fill="#00ffff"/>
<path d="M135.72,453.66L140.40,458.86L135.72,464.06L131.04,458.86Z" fill="#00ffff"/>
<path d="M156.06,454.88L160.74,460.08L156.06,465.28L151.38,460.08Z" fill="#00ffff"/>
<path d="M176.40,457.84L181.08,463.04L176.40,468.24L171.72,463.04Z" fill="#00ffff"/>
<path d="M196.74,455.23L201.42,460.43L196.74,465.63L192.06,460.43Z" fill="#00ffff"/>
<path d="M217.08,424.64L221.76,429.84L217.08,435.04L212.40,429.84Z" fill="#00ffff"/>
<path d="M237.42,378.45L242.10,383.65L237.42,388.85L232.74,383.65Z" fill="#00ffff"/>
<path d="M257.76,343.97L262.44,349.17L257.76,354.37L253.08,349.17Z" fill="#00ffff"/>
<path d="M278.10,325.04L282.78,330.24L278.10,335.44L273.42,330.24Z" fill="#00ffff"/>
<path d="M298.44,324.24L303.12,329.44L298.44,334.64L293.76,329.44Z" fill="#00ffff"/>
<path d="M318.78,356.88L323.46,362.08L318.78,367.28L314.10,362.08Z" fill="#00ffff"/>
<path d="M61.00,280.00 C62.47,286.00 63.46,289.89 65.40,298.00 C69.43,314.87 78.84,353.66 83.60,376.00 C87.16,392.71 88.90,409.98 92.10,420.00 C93.86,425.50 95.61,428.52 97.70,432.30 C99.64,435.81 101.63,439.15 104.10,442.00 C106.49,444.75 109.32,447.59 112.20,449.20 C114.73,450.61 117.07,451.07 120.20,451.60 C124.44,452.32 130.06,452.08 135.50,452.30 C141.72,452.55 148.85,452.20 155.50,453.00 C162.25,453.81 169.40,455.76 175.70,457.20 C181.28,458.47 187.56,461.35 191.40,461.10 C193.70,460.95 195.00,460.22 196.80,459.00 C199.27,457.32 201.84,454.86 204.20,451.00 C208.31,444.30 211.75,429.22 215.60,420.10 C218.77,412.60 221.92,407.08 225.20,400.00 C228.83,392.16 231.89,384.13 236.40,375.10 C242.03,363.84 249.51,348.66 256.90,337.90 C263.28,328.61 272.04,321.10 277.30,313.70 C281.29,308.08 284.16,303.57 286.60,298.00 C289.08,292.35 288.60,282.53 292.00,280.00 C294.48,278.15 299.55,278.15 302.00,280.00 C305.35,282.53 305.20,291.40 307.10,298.00 C309.43,306.10 312.66,316.97 315.00,325.00 C316.89,331.46 317.48,339.04 320.10,342.50 C321.72,344.64 324.03,344.97 326.00,346.20" fill="none" stroke="#ff00ff" stroke-width="3.1" stroke-linejoin="round"/>
<path d="M69.90,337.86L78.54,332.96L78.54,342.75Z" fill="#ff00ff"/>
<path d="M90.24,426.46L98.88,421.56L98.88,431.35Z" fill="#ff00ff"/>
<path d="M110.58,450.15L119.22,445.26L119.22,455.05Z" fill="#ff00ff"/>
<path d="M130.92,452.31L139.56,447.41L139.56,457.20Z" fill="#ff00ff"/>
<path d="M151.26,453.12L159.90,448.22L159.90,458.01Z" fill="#ff00ff"/>
<path d="M171.60,457.37L180.24,452.48L180.24,462.27Z" fill="#ff00ff"/>
<path d="M191.94,459.02L200.58,454.13L200.58,463.92Z" fill="#ff00ff"/>
<path d="M212.28,417.00L220.92,412.11L220.92,421.90Z" fill="#ff00ff"/>
<path d="M232.62,373.25L241.26,368.35L241.26,378.15Z" fill="#ff00ff"/>
<path d="M252.96,336.88L261.60,331.98L261.60,341.78Z" fill="#ff00ff"/>
<path d="M273.30,312.35L281.94,307.45L281.94,317.25Z" fill="#ff00ff"/>
<path d="M313.98,337.97L322.62,333.07L322.62,342.87Z" fill="#ff00ff"/>
</g>
<rect x="53.5" y="298" width="272.5" height="185.89999999999998" fill="none" stroke="#000" stroke-width="2.4"/>
<line x1="53.50" y1="483.9" x2="53.50" y2="488.09999999999997" stroke="#000" stroke-width="2.3"/>
<line x1="121.62" y1="483.9" x2="121.62" y2="488.09999999999997" stroke="#000" stroke-width="2.3"/>
<line x1="189.75" y1="483.9" x2="189.75" y2="488.09999999999997" stroke="#000" stroke-width="2.3"/>
<line x1="257.88" y1="483.9" x2="257.88" y2="488.09999999999997" stroke="#000" stroke-width="2.3"/>
<line x1="326.00" y1="483.9" x2="326.00" y2="488.09999999999997" stroke="#000" stroke-width="2.3"/>
<line x1="87.56" y1="483.9" x2="87.56" y2="486.29999999999995" stroke="#000" stroke-width="1.6"/>
<line x1="155.69" y1="483.9" x2="155.69" y2="486.29999999999995" stroke="#000" stroke-width="1.6"/>
<line x1="223.81" y1="483.9" x2="223.81" y2="486.29999999999995" stroke="#000" stroke-width="1.6"/>
<line x1="291.94" y1="483.9" x2="291.94" y2="486.29999999999995" stroke="#000" stroke-width="1.6"/>
<line x1="53.5" y1="483.90" x2="49.3" y2="483.90" stroke="#000" stroke-width="2.3"/>
<line x1="53.5" y1="437.42" x2="49.3" y2="437.42" stroke="#000" stroke-width="2.3"/>
<line x1="53.5" y1="390.95" x2="49.3" y2="390.95" stroke="#000" stroke-width="2.3"/>
<line x1="53.5" y1="344.48" x2="49.3" y2="344.48" stroke="#000" stroke-width="2.3"/>
<line x1="53.5" y1="298.00" x2="49.3" y2="298.00" stroke="#000" stroke-width="2.3"/>
<line x1="53.5" y1="460.66" x2="51.1" y2="460.66" stroke="#000" stroke-width="1.6"/>
<line x1="53.5" y1="414.19" x2="51.1" y2="414.19" stroke="#000" stroke-width="1.6"/>
<line x1="53.5" y1="367.71" x2="51.1" y2="367.71" stroke="#000" stroke-width="1.6"/>
<line x1="53.5" y1="321.24" x2="51.1" y2="321.24" stroke="#000" stroke-width="1.6"/>
<g font-family="Liberation Serif" font-weight="bold" fill="#000">
<text transform="translate(46.00,488.50) scale(1.3,1)" text-anchor="end" font-size="14.5">0</text>
<text transform="translate(46.00,442.02) scale(1.3,1)" text-anchor="end" font-size="14.5">5</text>
<text transform="translate(46.00,395.55) scale(1.3,1)" text-anchor="end" font-size="14.5">10</text>
<text transform="translate(46.00,349.08) scale(1.3,1)" text-anchor="end" font-size="14.5">15</text>
<text transform="translate(46.00,302.60) scale(1.3,1)" text-anchor="end" font-size="14.5">20</text>
<text transform="translate(49.10,460.62) scale(1.3,1)" text-anchor="end" font-size="14.5">3</text>
<text transform="translate(53.50,502.10) scale(1.3,1)" text-anchor="middle" font-size="14.5">7.5</text>
<text transform="translate(121.62,502.10) scale(1.3,1)" text-anchor="middle" font-size="14.5">8</text>
<text transform="translate(189.75,502.10) scale(1.3,1)" text-anchor="middle" font-size="14.5">8.5</text>
<text transform="translate(257.88,502.10) scale(1.3,1)" text-anchor="middle" font-size="14.5">9</text>
<text transform="translate(326.00,502.10) scale(1.3,1)" text-anchor="middle" font-size="14.5">9.5</text>
<text transform="translate(187.40,523.70) scale(1.277,1)" text-anchor="middle" font-size="14.5">Frequency (GHz)</text>
<text transform="translate(17.4,385.5) rotate(-90) scale(1,1.13)" text-anchor="middle" font-size="15.7">Axial Ratio (dB)</text>
</g>
<text x="186.05" y="553.2" text-anchor="middle" font-family="Liberation Sans" font-size="23" fill="#000">(c)</text>
<rect x="113.4" y="292.5" width="108.29999999999998" height="93.89999999999998" fill="#fff" stroke="#b0b0b0" stroke-width="1"/>
<line x1="114.1" y1="301.5" x2="149.4" y2="301.5" stroke="#000" stroke-width="3.0"/>
<rect x="128.00" y="297.50" width="8.00" height="8.00" fill="#000"/>
<text transform="translate(152.8,305.64) scale(1.176,1)" font-family="Liberation Serif" font-weight="bold" font-size="12.0"><tspan font-style="italic" font-weight="bold">w2</tspan>=7.6mm</text>
<line x1="114.1" y1="316.5" x2="149.4" y2="316.5" stroke="#f00" stroke-width="3.0"/>
<circle cx="132.00" cy="316.50" r="4.32" fill="#f00"/>
<text transform="translate(152.8,320.64) scale(1.176,1)" font-family="Liberation Serif" font-weight="bold" font-size="12.0"><tspan font-style="italic" font-weight="bold">w2</tspan>=8mm</text>
<line x1="114.1" y1="331.6" x2="149.4" y2="331.6" stroke="#0f0" stroke-width="3.0"/>
<path d="M132.00,326.80L136.90,335.44L127.10,335.44Z" fill="#0f0"/>
<text transform="translate(152.8,335.74) scale(1.176,1)" font-family="Liberation Serif" font-weight="bold" font-size="12.0"><tspan font-style="italic" font-weight="bold">w2</tspan>=8.4mm</text>
<line x1="114.1" y1="347" x2="149.4" y2="347" stroke="#00f" stroke-width="3.0"/>
<path d="M132.00,351.80L136.90,343.16L127.10,343.16Z" fill="#00f"/>
<text transform="translate(152.8,351.14) scale(1.176,1)" font-family="Liberation Serif" font-weight="bold" font-size="12.0"><tspan font-style="italic" font-weight="bold">w2</tspan>=8.8mm</text>
<line x1="114.1" y1="362.4" x2="149.4" y2="362.4" stroke="#0ff" stroke-width="3.0"/>
<path d="M132.00,357.20L136.68,362.40L132.00,367.60L127.32,362.40Z" fill="#0ff"/>
<text transform="translate(152.8,366.54) scale(1.176,1)" font-family="Liberation Serif" font-weight="bold" font-size="12.0"><tspan font-style="italic" font-weight="bold">w2</tspan>=9.2mm</text>
<line x1="114.1" y1="378" x2="149.4" y2="378" stroke="#f0f" stroke-width="3.0"/>
<path d="M127.20,378.00L135.84,373.10L135.84,382.90Z" fill="#f0f"/>
<text transform="translate(152.8,382.14) scale(1.176,1)" font-family="Liberation Serif" font-weight="bold" font-size="12.0"><tspan font-style="italic" font-weight="bold">w2</tspan>=9.6mm</text>
<line x1="403" y1="458.6" x2="663" y2="458.6" stroke="#000" stroke-width="2.4" stroke-dasharray="14.0 13.239999999999998"/>
<clipPath id="cd"><rect x="403" y="299" width="269.5" height="188.10000000000002"/></clipPath>
<g clip-path="url(#cd)">
<path d="M441.40,280.00 C442.80,286.13 443.69,289.94 445.60,298.40 C449.83,317.16 461.65,369.36 465.80,389.00 C467.80,398.44 468.54,402.70 470.00,410.00 C471.59,417.97 473.23,427.15 475.00,435.00 C476.59,442.06 477.78,450.19 480.00,455.00 C481.44,458.11 483.33,459.67 485.00,462.00 C488.33,460.67 491.76,459.28 495.00,458.00 C498.05,456.79 500.27,454.74 503.90,454.50 C509.32,454.14 517.86,457.45 524.60,459.60 C531.32,461.75 538.50,466.01 544.30,467.40 C548.62,468.44 552.36,468.17 556.00,468.50 C559.20,468.79 562.22,469.62 565.00,469.30 C567.51,469.01 569.58,467.70 572.00,467.00 C574.56,466.26 577.19,465.77 580.00,465.00 C583.16,464.13 586.67,463.00 590.00,462.00 C593.33,461.00 596.88,459.35 600.00,459.00 C602.65,458.70 605.28,458.77 607.50,459.50 C609.57,460.18 611.15,461.66 613.00,463.00 C615.05,464.49 617.19,466.34 619.20,468.10 C621.19,469.84 622.71,472.76 625.00,473.50 C627.31,474.25 630.48,473.23 633.00,472.50 C635.47,471.78 637.80,470.47 640.00,469.20 C642.16,467.96 643.86,466.95 646.10,465.00 C649.56,461.99 653.89,455.93 658.00,452.00 C661.87,448.30 667.48,445.09 670.00,442.00 C671.60,440.03 672.00,438.27 673.00,436.40" fill="none" stroke="#008000" stroke-width="3.1" stroke-linejoin="round"/>
<rect x="459.06" y="372.71" width="8.00" height="8.00" fill="#008000"/>
<rect x="479.36" y="455.70" width="8.00" height="8.00" fill="#008000"/>
<rect x="499.66" y="450.59" width="8.00" height="8.00" fill="#008000"/>
<rect x="519.96" y="455.44" width="8.00" height="8.00" fill="#008000"/>
<rect x="540.26" y="463.38" width="8.00" height="8.00" fill="#008000"/>
<rect x="560.56" y="465.26" width="8.00" height="8.00" fill="#008000"/>
<rect x="580.86" y="459.54" width="8.00" height="8.00" fill="#008000"/>
<rect x="601.16" y="455.34" width="8.00" height="8.00" fill="#008000"/>
<rect x="621.46" y="469.44" width="8.00" height="8.00" fill="#008000"/>
<rect x="641.76" y="461.23" width="8.00" height="8.00" fill="#008000"/>
<rect x="666.00" y="438.00" width="8.00" height="8.00" fill="#008000"/>
<path d="M443.20,280.00 C444.60,286.13 445.68,289.90 447.40,298.40 C451.21,317.27 459.15,367.80 463.50,390.00 C466.00,402.75 467.86,410.27 470.00,420.00 C472.03,429.24 473.25,439.54 476.00,447.00 C478.12,452.75 481.13,456.67 483.70,461.50 C486.80,458.33 489.57,454.64 493.00,452.00 C496.33,449.44 499.58,446.22 503.90,445.80 C509.60,445.24 518.08,449.16 524.60,452.70 C531.61,456.50 538.24,466.39 544.30,468.40 C548.43,469.77 552.39,468.56 556.00,468.00 C559.23,467.50 561.92,466.31 565.00,465.50 C568.24,464.65 571.65,463.19 575.00,463.00 C578.32,462.81 581.32,464.01 585.00,464.30 C589.49,464.65 595.13,463.88 600.00,464.70 C604.83,465.52 609.57,468.35 614.10,469.20 C618.13,469.95 622.45,470.98 625.80,469.90 C628.95,468.89 631.37,465.66 633.80,463.40 C636.08,461.28 637.92,458.94 640.00,456.80 C642.03,454.71 643.75,453.12 646.10,450.70 C649.43,447.26 653.99,442.14 658.00,438.00 C661.96,433.91 667.47,429.41 670.00,426.00 C671.55,423.91 672.00,422.27 673.00,420.40" fill="none" stroke="#ff0000" stroke-width="3.1" stroke-linejoin="round"/>
<circle cx="463.06" cy="387.50" r="4.32" fill="#ff0000"/>
<circle cx="483.36" cy="460.86" r="4.32" fill="#ff0000"/>
<circle cx="503.66" cy="445.94" r="4.32" fill="#ff0000"/>
<circle cx="523.96" cy="452.49" r="4.32" fill="#ff0000"/>
<circle cx="544.26" cy="468.37" r="4.32" fill="#ff0000"/>
<circle cx="564.56" cy="465.62" r="4.32" fill="#ff0000"/>
<circle cx="584.86" cy="464.28" r="4.32" fill="#ff0000"/>
<circle cx="605.16" cy="466.35" r="4.32" fill="#ff0000"/>
<circle cx="625.46" cy="469.88" r="4.32" fill="#ff0000"/>
<circle cx="645.76" cy="451.04" r="4.32" fill="#ff0000"/>
<circle cx="670.00" cy="426.00" r="4.32" fill="#ff0000"/>
<path d="M439.60,280.00 C441.00,286.13 442.04,289.90 443.80,298.40 C447.70,317.27 456.02,374.15 460.80,390.00 C462.55,395.80 464.17,396.72 465.70,401.50 C468.04,408.80 469.81,421.14 472.00,430.00 C473.93,437.83 475.57,446.31 478.00,452.00 C479.69,455.97 481.80,458.33 483.70,461.50 C486.80,459.33 489.66,456.79 493.00,455.00 C496.39,453.18 499.62,451.11 503.90,450.70 C509.64,450.15 517.88,452.64 524.60,454.60 C531.35,456.57 538.65,461.81 544.30,462.50 C548.33,462.99 551.51,461.68 555.00,461.00 C558.41,460.34 561.66,458.60 565.00,458.50 C568.32,458.40 571.67,460.38 575.00,460.40 C578.33,460.42 581.68,458.50 585.00,458.60 C588.34,458.70 591.76,459.86 595.00,461.00 C598.29,462.15 601.48,464.58 604.60,465.50 C607.33,466.31 610.01,467.11 612.60,466.60 C615.39,466.05 618.61,463.97 620.70,461.90 C622.69,459.93 623.22,457.26 625.00,454.60 C627.34,451.10 630.59,447.04 633.80,442.90 C637.53,438.09 642.06,432.66 646.10,427.50 C650.12,422.36 654.04,417.22 658.00,412.00 C662.01,406.72 667.44,400.14 670.00,396.00 C671.48,393.60 672.00,392.00 673.00,390.00" fill="none" stroke="#00ff00" stroke-width="3.1" stroke-linejoin="round"/>
<path d="M442.76,289.04L447.66,297.68L437.86,297.68Z" fill="#00ff00"/>
<path d="M463.06,390.50L467.96,399.14L458.16,399.14Z" fill="#00ff00"/>
<path d="M483.36,456.13L488.26,464.77L478.46,464.77Z" fill="#00ff00"/>
<path d="M503.66,445.99L508.56,454.63L498.76,454.63Z" fill="#00ff00"/>
<path d="M523.96,449.68L528.86,458.32L519.06,458.32Z" fill="#00ff00"/>
<path d="M544.26,457.68L549.16,466.32L539.36,466.32Z" fill="#00ff00"/>
<path d="M564.56,453.81L569.46,462.45L559.66,462.45Z" fill="#00ff00"/>
<path d="M584.86,453.83L589.76,462.47L579.96,462.47Z" fill="#00ff00"/>
<path d="M605.16,460.78L610.06,469.42L600.26,469.42Z" fill="#00ff00"/>
<path d="M625.46,449.19L630.36,457.83L620.56,457.83Z" fill="#00ff00"/>
<path d="M645.76,423.13L650.66,431.77L640.86,431.77Z" fill="#00ff00"/>
<path d="M670.00,391.20L674.90,399.84L665.10,399.84Z" fill="#00ff00"/>
<path d="M435.20,280.00 C436.60,286.13 437.59,289.91 439.40,298.40 C443.43,317.28 452.77,369.64 457.60,390.00 C460.05,400.31 461.91,405.50 464.00,413.10 C466.04,420.50 467.69,428.23 470.00,435.00 C472.08,441.09 474.47,447.56 477.00,452.00 C478.83,455.21 480.87,457.13 482.80,459.70 C485.87,457.13 488.59,454.17 492.00,452.00 C495.56,449.74 499.20,447.16 503.80,446.50 C509.65,445.66 517.75,448.83 524.60,449.70 C531.24,450.55 538.76,452.11 544.30,451.70 C548.44,451.40 551.49,449.88 555.00,449.00 C558.39,448.15 561.64,446.83 565.00,446.50 C568.31,446.18 571.77,446.08 575.00,447.00 C578.45,447.98 581.62,450.90 585.00,452.50 C588.29,454.05 591.66,455.49 595.00,456.50 C598.19,457.46 601.74,459.13 604.60,458.50 C607.35,457.90 609.56,455.55 611.90,453.10 C614.99,449.87 618.47,443.76 620.70,440.00 C622.29,437.32 622.84,435.86 624.40,432.90 C627.02,427.93 631.44,419.74 635.00,413.00 C638.67,406.05 642.57,399.70 646.10,391.80 C650.31,382.39 654.06,370.74 658.00,360.00 C662.03,349.02 667.23,333.42 670.00,326.60 C671.25,323.52 672.00,322.20 673.00,320.00" fill="none" stroke="#0000ff" stroke-width="3.1" stroke-linejoin="round"/>
<path d="M442.76,320.11L447.66,311.47L437.86,311.47Z" fill="#0000ff"/>
<path d="M463.06,414.51L467.96,405.87L458.16,405.87Z" fill="#0000ff"/>
<path d="M483.36,464.03L488.26,455.39L478.46,455.39Z" fill="#0000ff"/>
<path d="M503.66,451.37L508.56,442.73L498.76,442.73Z" fill="#0000ff"/>
<path d="M523.96,454.40L528.86,445.76L519.06,445.76Z" fill="#0000ff"/>
<path d="M544.26,456.50L549.16,447.86L539.36,447.86Z" fill="#0000ff"/>
<path d="M564.56,451.41L569.46,442.77L559.66,442.77Z" fill="#0000ff"/>
<path d="M584.86,457.22L589.76,448.58L579.96,448.58Z" fill="#0000ff"/>
<path d="M605.16,462.89L610.06,454.25L600.26,454.25Z" fill="#0000ff"/>
<path d="M625.46,435.71L630.36,427.07L620.56,427.07Z" fill="#0000ff"/>
<path d="M645.76,397.25L650.66,388.61L640.86,388.61Z" fill="#0000ff"/>
<path d="M670.00,331.40L674.90,322.76L665.10,322.76Z" fill="#0000ff"/>
<path d="M428.30,280.00 C429.77,286.13 430.76,289.92 432.70,298.40 C437.03,317.29 447.08,365.37 452.80,390.00 C456.68,406.72 459.12,421.09 463.10,432.00 C465.81,439.43 469.08,445.41 472.00,450.00 C474.02,453.17 476.00,455.00 478.00,457.50 C482.00,454.67 485.97,452.17 490.00,449.00 C494.43,445.51 498.01,439.96 503.40,437.30 C509.34,434.36 517.70,434.73 524.60,433.00 C531.33,431.31 537.58,428.08 544.30,427.10 C551.04,426.11 558.50,425.04 565.00,427.10 C572.00,429.32 579.99,438.43 584.60,440.90 C586.87,442.11 587.93,443.41 590.00,443.00 C593.83,442.24 600.35,434.65 604.30,429.30 C608.42,423.72 610.77,416.79 614.00,410.00 C617.54,402.56 621.27,394.85 624.60,386.40 C628.31,376.99 631.51,366.20 635.00,356.00 C638.54,345.67 642.24,334.76 645.70,324.80 C648.89,315.63 652.21,305.13 655.00,298.40 C656.79,294.08 658.01,288.45 660.00,288.00 C661.49,287.66 663.43,290.13 665.00,292.00 C667.19,294.62 669.40,299.71 671.00,303.00 C672.24,305.56 673.00,307.67 674.00,310.00" fill="none" stroke="#00ffff" stroke-width="3.1" stroke-linejoin="round"/>
<path d="M442.76,339.05L447.44,344.25L442.76,349.45L438.08,344.25Z" fill="#00ffff"/>
<path d="M463.06,426.64L467.74,431.84L463.06,437.04L458.38,431.84Z" fill="#00ffff"/>
<path d="M483.36,448.50L488.04,453.70L483.36,458.90L478.68,453.70Z" fill="#00ffff"/>
<path d="M503.66,432.05L508.34,437.25L503.66,442.45L498.98,437.25Z" fill="#00ffff"/>
<path d="M523.96,427.93L528.64,433.13L523.96,438.33L519.28,433.13Z" fill="#00ffff"/>
<path d="M544.26,421.91L548.94,427.11L544.26,432.31L539.58,427.11Z" fill="#00ffff"/>
<path d="M564.56,421.90L569.24,427.10L564.56,432.30L559.88,427.10Z" fill="#00ffff"/>
<path d="M584.86,435.80L589.54,441.00L584.86,446.20L580.18,441.00Z" fill="#00ffff"/>
<path d="M605.16,422.39L609.84,427.59L605.16,432.79L600.48,427.59Z" fill="#00ffff"/>
<path d="M625.46,378.69L630.14,383.89L625.46,389.09L620.78,383.89Z" fill="#00ffff"/>
<path d="M645.76,319.43L650.44,324.63L645.76,329.83L641.08,324.63Z" fill="#00ffff"/>
<path d="M670.00,295.97L674.68,301.17L670.00,306.37L665.32,301.17Z" fill="#00ffff"/>
<path d="M420.50,280.00 C422.00,286.13 422.93,289.93 425.00,298.40 C429.62,317.30 440.58,362.27 447.40,390.00 C453.08,413.08 458.17,439.92 463.10,453.40 C465.54,460.08 467.83,463.00 470.20,467.80 C474.10,460.93 478.20,453.98 481.90,447.20 C485.45,440.72 488.44,434.00 492.00,428.00 C495.33,422.39 498.84,417.02 502.50,412.20 C505.87,407.76 509.19,403.49 513.00,400.00 C516.59,396.72 520.89,394.15 524.60,391.70 C527.86,389.55 530.70,387.49 534.00,386.00 C537.27,384.53 540.88,382.54 544.30,382.80 C547.89,383.07 551.63,385.78 555.00,388.00 C558.55,390.33 561.78,393.41 565.00,396.60 C568.46,400.02 571.64,404.43 575.00,408.00 C578.17,411.37 581.40,414.33 584.60,417.50 C586.63,415.47 588.93,414.29 590.70,411.40 C593.42,406.96 594.76,398.49 597.00,392.00 C599.29,385.39 601.57,378.81 604.30,372.10 C607.17,365.05 609.55,354.64 613.90,350.70 C616.92,347.96 621.00,347.29 624.60,347.10 C628.17,346.91 631.85,349.53 635.40,349.50 C638.88,349.47 642.85,348.55 645.70,347.00 C648.28,345.59 649.85,342.98 652.00,341.00 C654.18,338.98 656.47,337.00 658.70,335.00 C660.63,337.40 662.51,340.09 664.50,342.20 C666.29,344.10 668.33,346.62 670.00,347.20 C671.06,347.57 672.00,347.07 673.00,347.00" fill="none" stroke="#ff00ff" stroke-width="3.1" stroke-linejoin="round"/>
<path d="M437.96,371.03L446.60,366.13L446.60,375.92Z" fill="#ff00ff"/>
<path d="M458.26,453.24L466.90,448.34L466.90,458.13Z" fill="#ff00ff"/>
<path d="M478.56,444.42L487.20,439.53L487.20,449.32Z" fill="#ff00ff"/>
<path d="M498.86,410.85L507.50,405.96L507.50,415.75Z" fill="#ff00ff"/>
<path d="M519.16,392.16L527.80,387.26L527.80,397.05Z" fill="#ff00ff"/>
<path d="M539.46,382.81L548.10,377.92L548.10,387.71Z" fill="#ff00ff"/>
<path d="M559.76,396.22L568.40,391.33L568.40,401.12Z" fill="#ff00ff"/>
<path d="M580.06,417.24L588.70,412.34L588.70,422.14Z" fill="#ff00ff"/>
<path d="M600.36,370.18L609.00,365.29L609.00,375.08Z" fill="#ff00ff"/>
<path d="M620.66,347.29L629.30,342.40L629.30,352.19Z" fill="#ff00ff"/>
<path d="M640.96,346.94L649.60,342.05L649.60,351.84Z" fill="#ff00ff"/>
<path d="M665.20,347.20L673.84,342.30L673.84,352.10Z" fill="#ff00ff"/>
</g>
<rect x="403" y="299" width="269.5" height="188.10000000000002" fill="none" stroke="#000" stroke-width="2.4"/>
<line x1="403.00" y1="487.1" x2="403.00" y2="491.3" stroke="#000" stroke-width="2.3"/>
<line x1="470.38" y1="487.1" x2="470.38" y2="491.3" stroke="#000" stroke-width="2.3"/>
<line x1="537.75" y1="487.1" x2="537.75" y2="491.3" stroke="#000" stroke-width="2.3"/>
<line x1="605.12" y1="487.1" x2="605.12" y2="491.3" stroke="#000" stroke-width="2.3"/>
<line x1="672.50" y1="487.1" x2="672.50" y2="491.3" stroke="#000" stroke-width="2.3"/>
<line x1="436.69" y1="487.1" x2="436.69" y2="489.5" stroke="#000" stroke-width="1.6"/>
<line x1="504.06" y1="487.1" x2="504.06" y2="489.5" stroke="#000" stroke-width="1.6"/>
<line x1="571.44" y1="487.1" x2="571.44" y2="489.5" stroke="#000" stroke-width="1.6"/>
<line x1="638.81" y1="487.1" x2="638.81" y2="489.5" stroke="#000" stroke-width="1.6"/>
<line x1="403" y1="487.10" x2="398.8" y2="487.10" stroke="#000" stroke-width="2.3"/>
<line x1="403" y1="440.08" x2="398.8" y2="440.08" stroke="#000" stroke-width="2.3"/>
<line x1="403" y1="393.05" x2="398.8" y2="393.05" stroke="#000" stroke-width="2.3"/>
<line x1="403" y1="346.02" x2="398.8" y2="346.02" stroke="#000" stroke-width="2.3"/>
<line x1="403" y1="299.00" x2="398.8" y2="299.00" stroke="#000" stroke-width="2.3"/>
<line x1="403" y1="463.59" x2="400.6" y2="463.59" stroke="#000" stroke-width="1.6"/>
<line x1="403" y1="416.56" x2="400.6" y2="416.56" stroke="#000" stroke-width="1.6"/>
<line x1="403" y1="369.54" x2="400.6" y2="369.54" stroke="#000" stroke-width="1.6"/>
<line x1="403" y1="322.51" x2="400.6" y2="322.51" stroke="#000" stroke-width="1.6"/>
<g font-family="Liberation Serif" font-weight="bold" fill="#000">
<text transform="translate(395.40,491.70) scale(1.28,1)" text-anchor="end" font-size="14.3">0</text>
<text transform="translate(395.40,444.68) scale(1.28,1)" text-anchor="end" font-size="14.3">5</text>
<text transform="translate(395.40,397.65) scale(1.28,1)" text-anchor="end" font-size="14.3">10</text>
<text transform="translate(395.40,350.62) scale(1.28,1)" text-anchor="end" font-size="14.3">15</text>
<text transform="translate(395.40,303.60) scale(1.28,1)" text-anchor="end" font-size="14.3">20</text>
<text transform="translate(398.50,463.49) scale(1.28,1)" text-anchor="end" font-size="14.3">3</text>
<text transform="translate(403.00,505.30) scale(1.28,1)" text-anchor="middle" font-size="14.3">7.5</text>
<text transform="translate(470.38,505.30) scale(1.28,1)" text-anchor="middle" font-size="14.3">8</text>
<text transform="translate(537.75,505.30) scale(1.28,1)" text-anchor="middle" font-size="14.3">8.5</text>
<text transform="translate(605.12,505.30) scale(1.28,1)" text-anchor="middle" font-size="14.3">9</text>
<text transform="translate(672.50,505.30) scale(1.28,1)" text-anchor="middle" font-size="14.3">9.5</text>
<text transform="translate(540.00,526.00) scale(1.25,1)" text-anchor="middle" font-size="14.5">Frequency (GHz)</text>
<text transform="translate(369.2,386.9) rotate(-90) scale(1,1.12)" text-anchor="middle" font-size="15.85">Axial Ratio (dB)</text>
</g>
<text x="541.9" y="552.9" text-anchor="middle" font-family="Liberation Sans" font-size="23" fill="#000">(d)</text>
<rect x="481.3" y="285.7" width="113.19999999999999" height="94.5" fill="#fff" stroke="#b0b0b0" stroke-width="1"/>
<line x1="481.6" y1="294.2" x2="516.7" y2="294.2" stroke="#008000" stroke-width="3.0"/>
<rect x="495.30" y="290.20" width="8.00" height="8.00" fill="#008000"/>
<text transform="translate(519.6,298.41) scale(1.153,1)" font-family="Liberation Serif" font-weight="bold" font-size="12.2"><tspan font-style="italic" font-weight="bold">w2</tspan> = 7.6mm</text>
<line x1="481.6" y1="310" x2="516.7" y2="310" stroke="#f00" stroke-width="3.0"/>
<circle cx="499.30" cy="310.00" r="4.32" fill="#f00"/>
<text transform="translate(519.6,314.21) scale(1.153,1)" font-family="Liberation Serif" font-weight="bold" font-size="12.2"><tspan font-style="italic" font-weight="bold">w2</tspan> = 8mm</text>
<line x1="481.6" y1="325.5" x2="516.7" y2="325.5" stroke="#0f0" stroke-width="3.0"/>
<path d="M499.30,320.70L504.20,329.34L494.40,329.34Z" fill="#0f0"/>
<text transform="translate(519.6,329.71) scale(1.153,1)" font-family="Liberation Serif" font-weight="bold" font-size="12.2"><tspan font-style="italic" font-weight="bold">w2</tspan> = 8.4mm</text>
<line x1="481.6" y1="341.1" x2="516.7" y2="341.1" stroke="#00f" stroke-width="3.0"/>
<path d="M499.30,345.90L504.20,337.26L494.40,337.26Z" fill="#00f"/>
<text transform="translate(519.6,345.31) scale(1.153,1)" font-family="Liberation Serif" font-weight="bold" font-size="12.2"><tspan font-style="italic" font-weight="bold">w2</tspan> = 8.8mm</text>
<line x1="481.6" y1="356.9" x2="516.7" y2="356.9" stroke="#0ff" stroke-width="3.0"/>
<path d="M499.30,351.70L503.98,356.90L499.30,362.10L494.62,356.90Z" fill="#0ff"/>
<text transform="translate(519.6,361.11) scale(1.153,1)" font-family="Liberation Serif" font-weight="bold" font-size="12.2"><tspan font-style="italic" font-weight="bold">w2</tspan> = 9.2mm</text>
<line x1="481.6" y1="372.6" x2="516.7" y2="372.6" stroke="#f0f" stroke-width="3.0"/>
<path d="M494.50,372.60L503.14,367.70L503.14,377.50Z" fill="#f0f"/>
<text transform="translate(519.6,376.81) scale(1.153,1)" font-family="Liberation Serif" font-weight="bold" font-size="12.2"><tspan font-style="italic" font-weight="bold">w2</tspan> = 9.6mm</text>
</svg>
</body></html>
